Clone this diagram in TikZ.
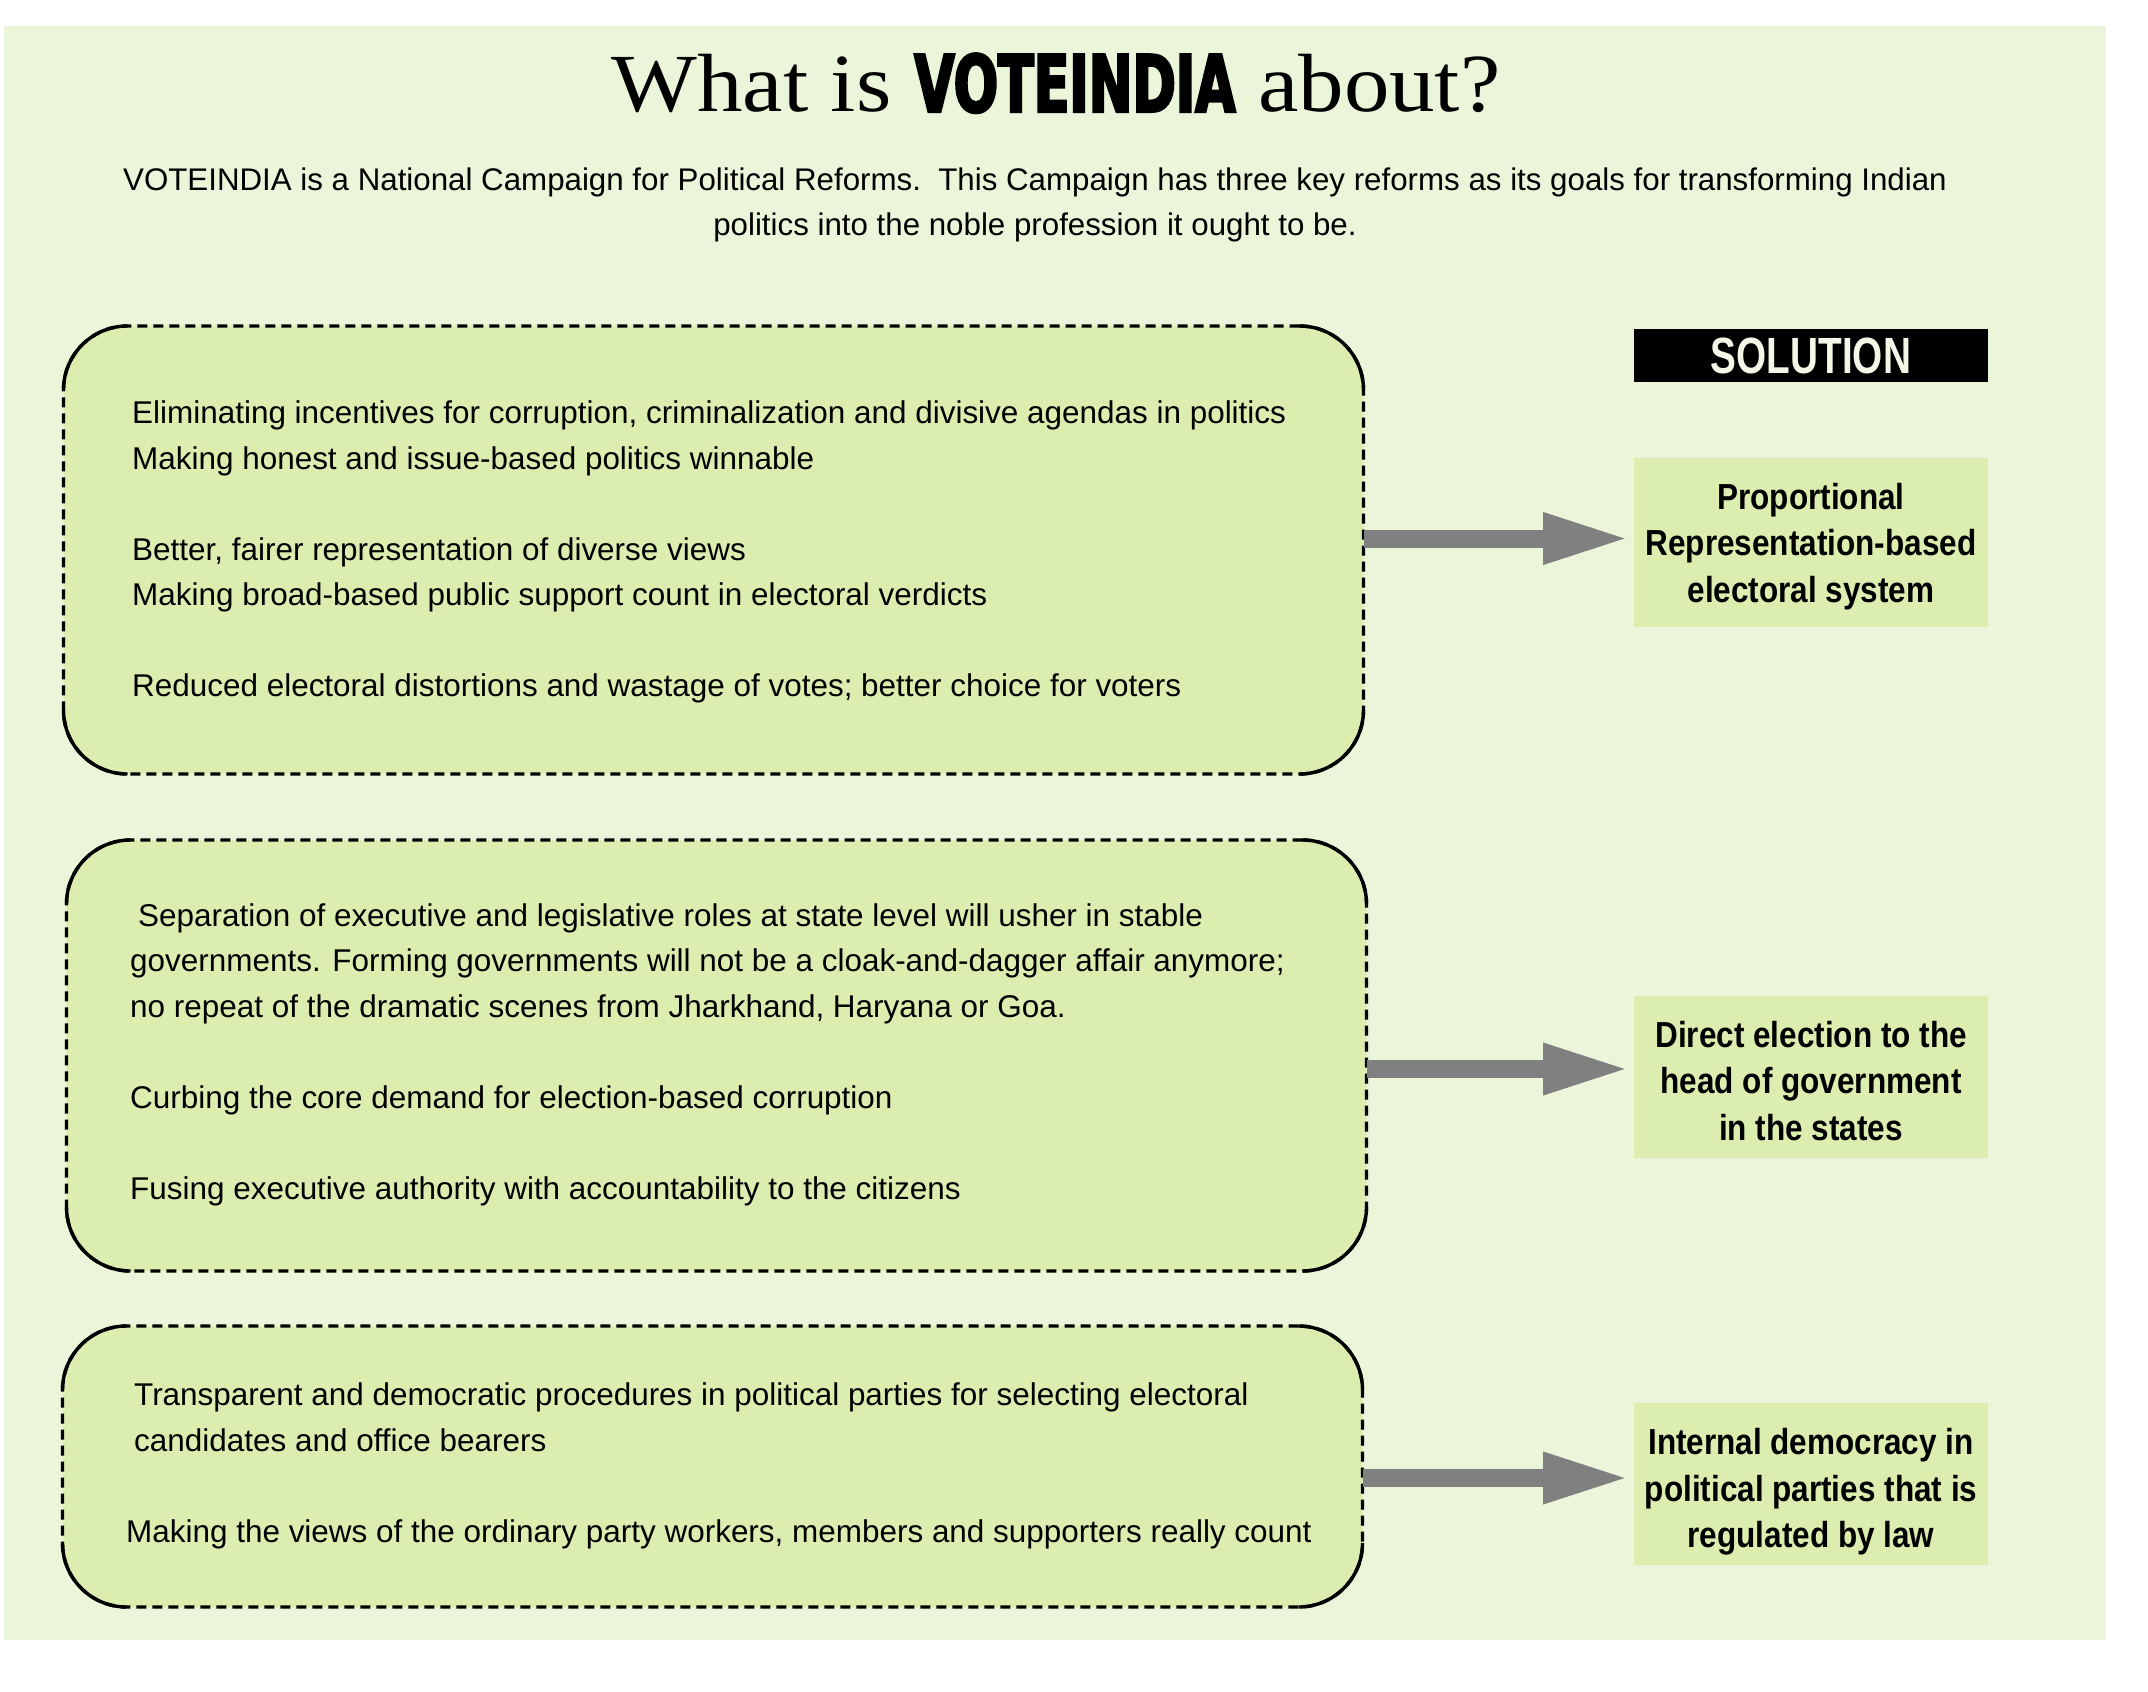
\documentclass[tikz,border=0pt]{standalone}
\usepackage{fontspec}
\setmainfont{Liberation Sans}
\newfontfamily\condfont[FakeStretch=0.87]{Liberation Sans}
\newfontfamily\labelfont[FakeStretch=0.76]{Liberation Sans}
\newfontfamily\serifhead[FakeStretch=1.1]{Liberation Serif}
\newfontfamily\heavyfont[FakeStretch=0.66,FakeBold=3]{DejaVu Sans}
\usetikzlibrary{arrows.meta}

\definecolor{pagegreen}{RGB}{234,245,217}
\definecolor{boxgreen}{RGB}{220,237,176}
\definecolor{arrowgray}{RGB}{128,128,128}
\definecolor{cream}{RGB}{246,246,232}

\begin{document}
\begin{tikzpicture}[
  reasonbox/.style={draw, line width=0.034cm, dash pattern=on 0.1cm off 0.06cm,
    fill=boxgreen, rounded corners=0.64cm, minimum width=13cm, outer sep=0pt},
  corner/.style={line width=0.034cm, solid},
  reasontext/.style={anchor=west, align=left, inner sep=0pt,
    font=\fontsize{8.95}{12.95}\selectfont},
  solbox/.style={fill=boxgreen, minimum width=3.54cm, outer sep=0pt},
  soltext/.style={align=center, inner sep=0pt,
    font=\condfont\bfseries\fontsize{10.3}{13.2}\selectfont},
  fatarrow/.style={draw=arrowgray, line width=0.18cm,
    -{Triangle[length=0.87cm,width=0.47cm]}, shorten >=0.04cm}
]
\useasboundingbox (0,0) rectangle (21.48,-16.92);

% Page
\fill[pagegreen] (0.04,-0.26) rectangle (21.06,-16.40);

% Heading
\node[anchor=base, inner sep=0pt] (title) at (10.56,-1.12)
  {\serifhead\fontsize{23.5}{28}\selectfont What is {\heavyfont\bfseries\fontsize{22.5}{28}\selectfont VOTEINDIA} about?};
\node[align=center, inner sep=0pt, font=\fontsize{8.9}{13}\selectfont] (intro) at (10.35,-2.05)
  {VOTEINDIA is a National Campaign for Political Reforms.\ \ This Campaign has three key reforms as its goals for transforming Indian\\
   politics into the noble profession it ought to be.};

% Reasons
\node[reasonbox, minimum height=4.48cm] (prbox) at (7.135,-5.50) {};
\node[reasonbox, minimum height=4.31cm] (debox) at (7.165,-10.555) {};
\node[reasonbox, minimum height=2.81cm] (idbox) at (7.125,-14.665) {};

% Solid corners
\foreach \b in {prbox,debox,idbox}{
  \draw[corner] ([yshift=-0.64cm]\b.north west) arc[start angle=180,end angle=90,radius=0.64cm];
  \draw[corner] ([xshift=-0.64cm]\b.north east) arc[start angle=90,end angle=0,radius=0.64cm];
  \draw[corner] ([yshift=0.64cm]\b.south east) arc[start angle=0,end angle=-90,radius=0.64cm];
  \draw[corner] ([xshift=0.64cm]\b.south west) arc[start angle=270,end angle=180,radius=0.64cm];
}

\node[reasontext] (prtext) at ([xshift=0.68cm,yshift=-0.02cm]prbox.west)
  {Eliminating incentives for corruption, criminalization and divisive agendas in politics\\
   Making honest and issue-based politics winnable\\[12.95pt]
   Better, fairer representation of diverse views\\
   Making broad-based public support count in electoral verdicts\\[12.95pt]
   Reduced electoral distortions and wastage of votes; better choice for voters};
\node[reasontext] (detext) at ([xshift=0.63cm,yshift=0.01cm]debox.west)
  {\hspace*{0.08cm}Separation of executive and legislative roles at state level will usher in stable\\
   governments. Forming governments will not be a cloak-and-dagger affair anymore;\\
   no repeat of the dramatic scenes from Jharkhand, Haryana or Goa.\\[12.95pt]
   Curbing the core demand for election-based corruption\\[12.95pt]
   Fusing executive authority with accountability to the citizens};
\node[reasontext] (idtext) at ([xshift=0.71cm,yshift=0.005cm]idbox.west)
  {Transparent and democratic procedures in political parties for selecting electoral\\
   candidates and office bearers\\[12.95pt]
   \hspace*{-0.08cm}Making the views of the ordinary party workers, members and supporters really count};

% Solutions
\node[fill=black, text=cream, minimum width=3.54cm, minimum height=0.53cm, inner sep=0pt,
  font=\labelfont\bfseries\fontsize{14.5}{16}\selectfont] (solhead) at (18.11,-3.555) {SOLUTION};
\node[solbox, minimum height=1.69cm] (prsol) at (18.11,-5.425) {};
\node[solbox, minimum height=1.62cm] (desol) at (18.11,-10.77) {};
\node[solbox, minimum height=1.62cm] (idsol) at (18.11,-14.84) {};
\node[soltext] (prlabel) at ([yshift=-0.04cm]prsol.center)
  {Proportional\\Representation-based\\electoral system};
\node[soltext] (delabel) at ([yshift=-0.04cm]desol.center)
  {Direct election to the\\head of government\\in the states};
\node[soltext] (idlabel) at ([yshift=-0.08cm]idsol.center)
  {Internal democracy in\\political parties that is\\regulated by law};

% Arrows
\draw[fatarrow] ([yshift=0.04cm]prsol.west -| prbox.east) -- ([yshift=0.04cm]prsol.west);
\draw[fatarrow] ([yshift=0.08cm]desol.west -| debox.east) -- ([yshift=0.08cm]desol.west);
\draw[fatarrow] ([yshift=0.06cm]idsol.west -| idbox.east) -- ([yshift=0.06cm]idsol.west);

\end{tikzpicture}
\end{document}
